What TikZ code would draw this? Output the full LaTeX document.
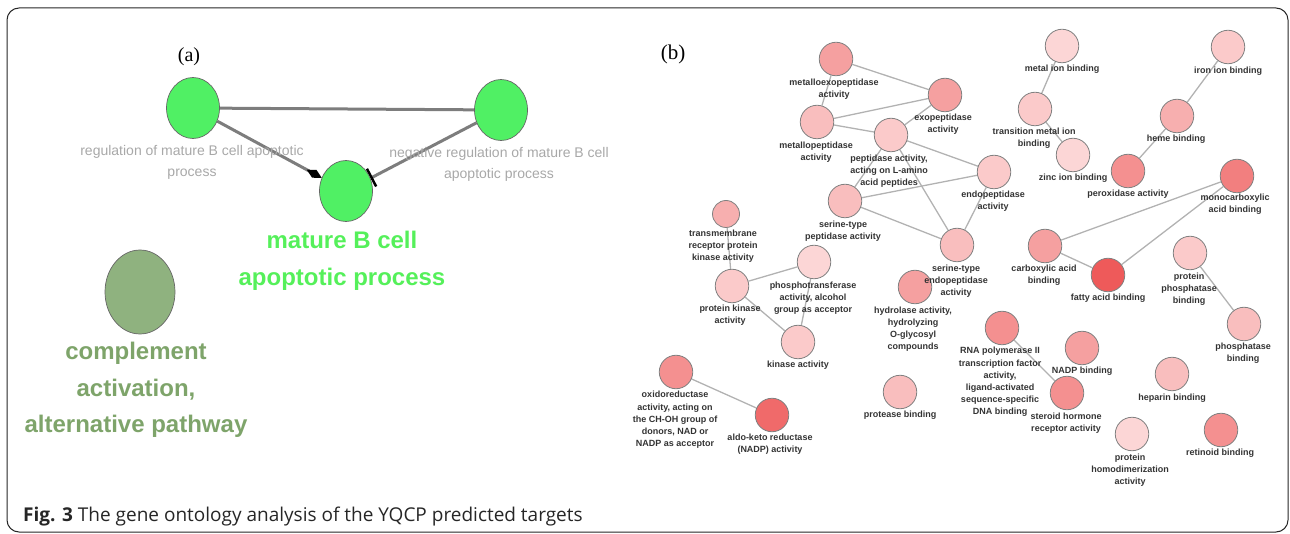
\documentclass[tikz,border=0pt]{standalone}
\usepackage{fontspec}
\setmainfont{Liberation Sans}
\newfontfamily\capfont{Open Sans}
\newfontfamily\serfont{Liberation Serif}
\usetikzlibrary{arrows.meta,shapes.geometric,backgrounds}
\definecolor{gA}{RGB}{80,240,100}
\definecolor{gAt}{RGB}{85,240,90}
\definecolor{gB}{RGB}{143,178,127}
\definecolor{gBt}{RGB}{126,164,106}
\definecolor{lgray}{RGB}{168,168,168}
\definecolor{egray}{RGB}{125,125,125}
\definecolor{p0}{HTML}{FCD6D6}
\definecolor{p1}{HTML}{FBCACA}
\definecolor{p2}{HTML}{F9BEBE}
\definecolor{p3}{HTML}{F7AFAF}
\definecolor{p4}{HTML}{F5A0A0}
\definecolor{p5}{HTML}{F49090}
\definecolor{p6}{HTML}{F27F7F}
\definecolor{p7}{HTML}{F06A6A}
\definecolor{p8}{HTML}{EE5A5A}
\tikzset{
  gnode/.style={ellipse, draw=black!60, line width=0.7pt, fill=gA, minimum width=53pt, minimum height=61pt, inner sep=0pt},
  glabel/.style={text=lgray, align=center, font=\fontsize{14}{21}\selectfont},
  bigg/.style={align=center, font=\fontsize{24}{36.5}\selectfont\bfseries},
  aedge/.style={draw=egray, line width=3pt},
  gn/.style={circle, draw=black!50, line width=0.8pt, minimum size=33.5pt, inner sep=0pt},
  lab/.style={align=center, text=black!80, font=\fontsize{9}{12.2}\selectfont\bfseries, inner sep=0pt},
  ed/.style={draw=black!30, line width=1.3pt}
}
\begin{document}
\begin{tikzpicture}[x=1pt,y=-1pt]
\useasboundingbox (0,0) rectangle (1290,534);
\draw[rounded corners=12pt, line width=1pt, black!85] (7,8) rectangle (1288,532);
% caption
\node[anchor=base west, inner sep=0pt, text=black!85] (cap) at (23,521) {\capfont\fontsize{19}{23}\selectfont\textbf{Fig. 3} The gene ontology analysis of the YQCP predicted targets};
% panel (a)
\node[inner sep=0pt] (la) at (189,57) {\serfont\fontsize{20}{24}\selectfont (a)};
\node[gnode] (A) at (193,108) {};
\node[gnode] (B) at (501,110) {};
\node[gnode] (C) at (346,191) {};
\node[gnode, fill=gB, minimum width=70pt, minimum height=84pt] (D) at (140,292) {};
\node[glabel] (lA) at (192,162.5) {regulation of mature B cell apoptotic\\process};
\node[glabel] (lB) at (499,164.5) {negative regulation of mature B cell\\apoptotic process};
\node[bigg, text=gAt] (lC) at (342,261) {mature B cell\\apoptotic process};
\node[bigg, text=gBt] (lD) at (136,390) {complement\\activation,\\alternative pathway};
\begin{scope}[on background layer]
\draw[aedge] (A) -- (B);
\draw[aedge, -{Diamond[length=17pt,width=9pt,black]}] (A) -- (C);
\draw[aedge, -{Bar[width=20pt,line width=2.5pt,black]}] (B) -- (C);
\end{scope}
% panel (b)
\node[inner sep=0pt] (lb) at (673,54) {\serfont\fontsize{21}{24}\selectfont (b)};
\node[gn, fill=p4] (n1) at (836,59) {};
\node[gn, fill=p4] (n2) at (945,95) {};
\node[gn, fill=p2] (n3) at (817,122) {};
\node[gn, fill=p1] (n4) at (891,135) {};
\node[gn, fill=p2] (n5) at (845,201) {};
\node[gn, fill=p1] (n6) at (994,172) {};
\node[gn, fill=p2] (n7) at (957,245) {};
\node[gn, fill=p0] (n8) at (1062,46) {};
\node[gn, fill=p1] (n9) at (1035,109) {};
\node[gn, fill=p0] (n10) at (1073,155) {};
\node[gn, fill=p1] (n11) at (1228,47) {};
\node[gn, fill=p3] (n12) at (1177,116) {};
\node[gn, fill=p5] (n13) at (1128,171) {};
\node[gn, fill=p6] (n14) at (1237,176) {};
\node[gn, fill=p4] (n15) at (1045,246) {};
\node[gn, fill=p8] (n16) at (1108,275) {};
\node[gn, fill=p1] (n17) at (1190,253) {};
\node[gn, fill=p2] (n18) at (1244,324) {};
\node[gn, fill=p5] (n19) at (1002,328) {};
\node[gn, fill=p4] (n20) at (1082,348) {};
\node[gn, fill=p5] (n21) at (1067,393) {};
\node[gn, fill=p2] (n22) at (1172,374) {};
\node[gn, fill=p0] (n23) at (1132,434) {};
\node[gn, fill=p5] (n24) at (1221,430) {};
\node[gn, fill=p3, minimum size=27pt] (n25) at (726,214) {};
\node[gn, fill=p1] (n26) at (732,286) {};
\node[gn, fill=p0] (n27) at (814,262) {};
\node[gn, fill=p1] (n28) at (798,342) {};
\node[gn, fill=p4] (n29) at (915,287) {};
\node[gn, fill=p5] (n30) at (676,372) {};
\node[gn, fill=p7] (n31) at (772,415) {};
\node[gn, fill=p2] (n32) at (900,392) {};
% labels
\node[lab] (t1) at (834,89) {metalloexopeptidase\\activity};
\node[lab] (t2) at (943,124) {exopeptidase\\activity};
\node[lab] (t3) at (816,152) {metallopeptidase\\activity};
\node[lab] (t4) at (889,171) {peptidase activity,\\acting on L-amino\\acid peptides};
\node[lab] (t5) at (843,231.5) {serine-type\\peptidase activity};
\node[lab] (t6) at (993,201) {endopeptidase\\activity};
\node[lab] (t7) at (956,281) {serine-type\\endopeptidase\\activity};
\node[lab] (t8) at (1062,69) {metal ion binding};
\node[lab] (t9) at (1034,138.5) {transition metal ion\\binding};
\node[lab] (t10) at (1073,178) {zinc ion binding};
\node[lab] (t11) at (1228,71) {iron ion binding};
\node[lab] (t12) at (1176,139) {heme binding};
\node[lab] (t13) at (1128,194) {peroxidase activity};
\node[lab] (t14) at (1235,204.5) {monocarboxylic\\acid binding};
\node[lab] (t15) at (1044,275) {carboxylic acid\\binding};
\node[lab] (t16) at (1108,298) {fatty acid binding};
\node[lab] (t17) at (1189,289) {protein\\phosphatase\\binding};
\node[lab] (t18) at (1243,353) {phosphatase\\binding};
\node[lab] (t19) at (1000,382) {RNA polymerase II\\transcription factor\\activity,\\ligand-activated\\sequence-specific\\DNA binding};
\node[lab] (t20) at (1082,371) {NADP binding};
\node[lab] (t21) at (1066,423) {steroid hormone\\receptor activity};
\node[lab] (t22) at (1172,398) {heparin binding};
\node[lab] (t23) at (1130,470) {protein\\homodimerization\\activity};
\node[lab] (t24) at (1220,453) {retinoid binding};
\node[lab] (t25) at (723,246) {transmembrane\\receptor protein\\kinase activity};
\node[lab] (t26) at (730,315) {protein kinase\\activity};
\node[lab] (t27) at (813,298) {phosphotransferase\\activity, alcohol\\group as acceptor};
\node[lab] (t28) at (798,365) {kinase activity};
\node[lab] (t29) at (913,329) {hydrolase activity,\\hydrolyzing\\O-glycosyl\\compounds};
\node[lab] (t30) at (675,420) {oxidoreductase\\activity, acting on\\the CH-OH group of\\donors, NAD or\\NADP as acceptor};
\node[lab] (t31) at (770,444.5) {aldo-keto reductase\\(NADP) activity};
\node[lab] (t32) at (900,415) {protease binding};
\begin{scope}[on background layer]
\draw[ed] (n1) -- (n2);
\draw[ed] (n1) -- (n3);
\draw[ed] (n3) -- (n2);
\draw[ed] (n3) -- (n4);
\draw[ed] (n4) -- (n2);
\draw[ed] (n4) -- (n6);
\draw[ed] (n4) -- (n5);
\draw[ed] (n4) -- (n7);
\draw[ed] (n5) -- (n6);
\draw[ed] (n5) -- (n7);
\draw[ed] (n6) -- (n7);
\draw[ed] (n8) -- (n9);
\draw[ed] (n9) -- (n10);
\draw[ed] (n11) -- (n12);
\draw[ed] (n12) -- (n13);
\draw[ed] (n14) -- (n15);
\draw[ed] (n14) -- (n16);
\draw[ed] (n15) -- (n16);
\draw[ed] (n17) -- (n18);
\draw[ed] (n19) -- (n21);
\draw[ed] (n25) -- (n26);
\draw[ed] (n26) -- (n27);
\draw[ed] (n26) -- (n28);
\draw[ed] (n27) -- (n28);
\draw[ed] (n30) -- (n31);
\end{scope}
\end{tikzpicture}
\end{document}
